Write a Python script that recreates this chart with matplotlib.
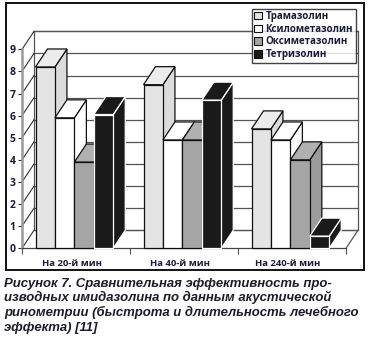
import matplotlib
matplotlib.use("Agg")
import matplotlib.pyplot as plt
from matplotlib.patches import Polygon, Patch, Rectangle

categories = ["На 20-й мин", "На 40-й мин", "На 240-й мин"]
series = ["Трамазолин", "Ксилометазолин", "Оксиметазолин", "Тетризолин"]
tramazolin = [8.2, 7.4, 5.4]
ksilometazolin = [5.9, 4.9, 4.9]
oksimetazolin = [3.9, 4.9, 4.0]
tetrizolin = [6.05, 6.7, 0.55]
yticks = list(range(0, 10))
caption = ["Рисунок 7. Сравнительная эффективность про-",
           "изводных имидазолина по данным акустической",
           "ринометрии (быстрота и длительность лечебного",
           "эффекта) [11]"]

values = [tramazolin, ksilometazolin, oksimetazolin, tetrizolin]
front_c = ["#e4e4e4", "#ffffff", "#a5a5a5", "#1a1a1a"]
top_c = ["#ececec", "#ffffff", "#b0b0b0", "#1a1a1a"]
side_c = ["#dcdcdc", "#ffffff", "#9c9c9c", "#1a1a1a"]
edge_c = ["#111111", "#111111", "#111111", "#ffffff"]

cap_font = "Liberation Sans"
lab_font = "Open Sans"

W, H = 372, 338
fig = plt.figure(figsize=(W / 100, H / 100), dpi=100)
ax = fig.add_axes([22 / W, 1 - 248.3 / H, 324 / W, (248.3 - 49.3) / H])
ax.set_xlim(0, 3)
ax.set_ylim(0, 9)

dx = 12 / 108.0
dy = 18 / 22.1
grid_c = "#555555"

# back wall
ax.add_patch(Rectangle((dx, dy), 3, 9, facecolor="white", edgecolor=grid_c,
                       lw=0.9, clip_on=False, zorder=1))
for t in yticks:
    ax.plot([dx, 3 + dx], [t + dy, t + dy], color=grid_c, lw=0.9, clip_on=False, zorder=1.1)
    ax.plot([0, dx], [t, t + dy], color="#333333", lw=0.8, clip_on=False, zorder=1.1)
# floor
ax.plot([3, 3 + dx], [0, dy], color=grid_c, lw=0.9, clip_on=False, zorder=1.1)

# spines / ticks
for s in ["top", "right"]:
    ax.spines[s].set_visible(False)
ax.spines["left"].set_color("#9a9a9a")
ax.spines["left"].set_linewidth(1.8)
ax.spines["bottom"].set_color("#444444")
ax.spines["bottom"].set_linewidth(0.9)
ax.patch.set_visible(False)
ax.set_yticks(yticks)
ax.set_yticklabels([str(t) for t in yticks], fontsize=7.5, fontweight="bold",
                   color="#1a1a3a", family=lab_font)
ax.tick_params(axis="y", length=3, width=0.8, color="#333333", pad=1.5)
ax.set_xticks([0, 1, 2, 3])
ax.set_xticklabels([])
ax.tick_params(axis="x", which="major", length=4, width=0.8, color="#555555")
centers = [k + 0.46 for k in range(len(categories))]
ax.set_xticks(centers, minor=True)
ax.set_xticklabels(categories, minor=True, fontsize=6.8, fontweight="bold",
                   color="#1a1a3a", family=lab_font)
ax.tick_params(axis="x", which="minor", length=0, pad=8)

# bars
start, w = 0.125, 0.18
z = 3
for g in range(len(categories)):
    for s in range(len(series)):
        v = values[s][g]
        x0 = g + start + s * w
        front = [(x0, 0), (x0 + w, 0), (x0 + w, v), (x0, v)]
        top = [(x0, v), (x0 + w, v), (x0 + w + dx, v + dy), (x0 + dx, v + dy)]
        side = [(x0 + w, 0), (x0 + w + dx, dy), (x0 + w + dx, v + dy), (x0 + w, v)]
        for poly, fc in ((side, side_c[s]), (top, top_c[s]), (front, front_c[s])):
            ax.add_patch(Polygon(poly, closed=True, facecolor=fc, edgecolor=edge_c[s],
                                 lw=0.9, clip_on=False, zorder=z))
            z += 0.01
        z += 0.1

# legend
handles = [Patch(facecolor=front_c[i], edgecolor="#111111", lw=0.8) for i in range(4)]
leg = fig.legend(handles, series, loc="upper left", bbox_to_anchor=(252 / W, 1 - 8.5 / H),
                 frameon=True, fancybox=False, edgecolor="#111111",
                 prop={"family": lab_font, "weight": "bold", "size": 7.0},
                 handlelength=0.8, handleheight=0.8, handletextpad=0.35,
                 labelspacing=0.18, borderpad=0.25, borderaxespad=0)
leg.get_frame().set_linewidth(1.0)
for t in leg.get_texts():
    t.set_color("#1a1a3a")

# outer frame
fig.add_artist(Rectangle((5.5 / W, 1 - 270 / H), 358 / W, 267 / H, transform=fig.transFigure,
                         facecolor="none", edgecolor="#111111", lw=1.4))

# caption: fit the widest line to the reference width
baselines = [287, 301.5, 316, 331]
texts = []
for line, b in zip(caption, baselines):
    texts.append(fig.text(4 / W, 1 - b / H, line, ha="left", va="baseline", fontsize=10,
                          fontweight="bold", style="italic", family=cap_font, color="#1c1c2c"))
renderer = fig.canvas.get_renderer()
target = 356.0
wmax = max(t.get_window_extent(renderer).width for t in texts[:3])
fs = 10 * target / wmax
for t in texts:
    t.set_fontsize(fs)

fig.savefig("out.png", dpi=100)
